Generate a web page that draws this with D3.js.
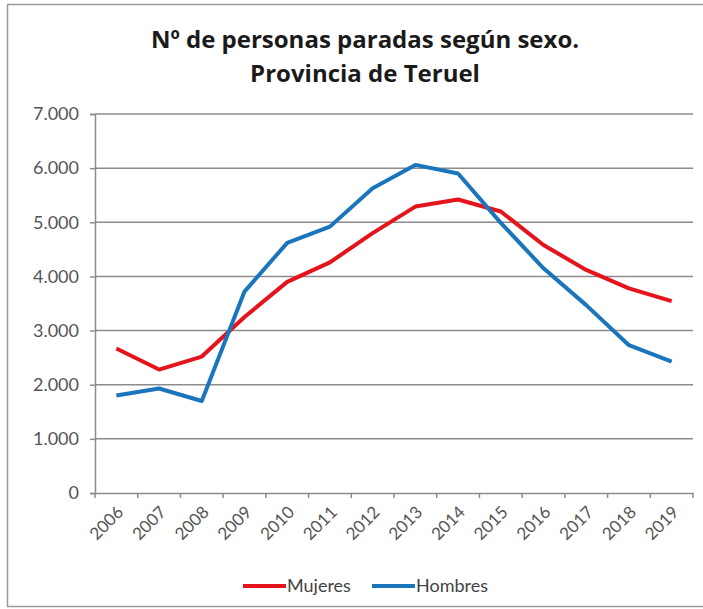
<!DOCTYPE html>
<html>
<head>
<meta charset="utf-8">
<script src="https://cdn.jsdelivr.net/npm/d3@7"></script>
<style>
  body { margin: 0; background: #fff; }
  svg { display: block; font-family: Lato, "Open Sans", sans-serif; }
</style>
</head>
<body>
<svg id="chart"></svg>
<script>
const years = ['2006', '2007', '2008', '2009', '2010', '2011', '2012', '2013', '2014', '2015', '2016', '2017', '2018', '2019']
const mujeres = [2670, 2280, 2520, 3250, 3900, 4260, 4800, 5290, 5420, 5200, 4580, 4120, 3780, 3545]
const hombres = [1800, 1930, 1700, 3720, 4620, 4920, 5630, 6060, 5900, 4990, 4150, 3470, 2730, 2425]
const yTicks = [0, 1000, 2000, 3000, 4000, 5000, 6000, 7000]
const seriesNames = ['Mujeres', 'Hombres']
const colors = ['#e5141c', '#1b75bc']

const width = 703
const height = 609
const margin = { top: 114, right: 10, bottom: 116, left: 95 }
const plotW = 598
const plotH = height - margin.top - margin.bottom

const svg = d3.select('#chart')
  .attr('width', width)
  .attr('height', height)

// frame
svg.append('rect')
  .attr('x', 7.5).attr('y', 4.5)
  .attr('width', 720).attr('height', 602)
  .attr('fill', '#fff')
  .attr('stroke', '#9a9a9a')
  .attr('stroke-width', 1.5)

// title
const title = svg.append('text')
  .attr('text-anchor', 'middle')
  .attr('font-family', '"Open Sans", sans-serif')
  .attr('font-weight', 'bold')
  .attr('font-size', '24px')
  .attr('fill', '#1a1a1a')
title.append('tspan').attr('x', 365).attr('y', 48).text('Nº de personas paradas según sexo.')
title.append('tspan').attr('x', 365).attr('y', 82).text('Provincia de Teruel')

const x = d3.scaleBand()
  .domain(years)
  .range([0, plotW])

const y = d3.scaleLinear()
  .domain([0, 7000])
  .range([plotH, 0])

const g = svg.append('g')
  .attr('transform', `translate(${margin.left}, ${margin.top})`)

const fmt = d => d3.format(',')(d).replace(/,/g, '.')

// gridlines + y axis
const yAxis = g.append('g')
  .call(d3.axisLeft(y).tickValues(yTicks).tickSize(5).tickPadding(11).tickFormat(fmt))
yAxis.select('.domain').attr('stroke', '#8c8c8c').attr('stroke-width', 1.5)
yAxis.selectAll('.tick line').attr('stroke', '#8c8c8c').attr('stroke-width', 1.5)
yAxis.selectAll('.tick text')
  .attr('font-size', '18px')
  .attr('fill', '#555')
  .attr('font-family', 'Lato, sans-serif')

g.append('g')
  .selectAll('line')
  .data(yTicks.filter(d => d > 0))
  .join('line')
  .attr('x1', 0).attr('x2', plotW)
  .attr('y1', d => y(d)).attr('y2', d => y(d))
  .attr('stroke', '#8c8c8c')
  .attr('stroke-width', 1.5)

// x axis
const xAxis = g.append('g')
  .attr('transform', `translate(0, ${plotH})`)
  .call(d3.axisBottom(x).tickSize(0).tickPadding(0))
xAxis.select('.domain').attr('stroke', '#8c8c8c').attr('stroke-width', 1.5)
xAxis.selectAll('.tick line').remove()
xAxis.selectAll('.tick text')
  .attr('font-size', '17px')
  .attr('fill', '#555')
  .attr('font-family', 'Lato, sans-serif')
  .attr('text-anchor', 'end')
  .attr('dy', '0.35em')
  .attr('transform', 'translate(4, 16) rotate(-45)')

// category boundary ticks
xAxis.append('g')
  .selectAll('line')
  .data(years.map(d => x(d)).concat([plotW]))
  .join('line')
  .attr('x1', d => d).attr('x2', d => d)
  .attr('y1', 0).attr('y2', 5)
  .attr('stroke', '#8c8c8c')
  .attr('stroke-width', 1.5)

// lines
const line = d3.line()
  .x((d, i) => x(years[i]) + x.bandwidth() / 2)
  .y(d => y(d))

;[mujeres, hombres].forEach((s, i) => {
  g.append('path')
    .datum(s)
    .attr('fill', 'none')
    .attr('stroke', colors[i])
    .attr('stroke-width', 4)
    .attr('stroke-linejoin', 'round')
    .attr('d', line)
})

// legend
const legend = svg.append('g')
  .attr('transform', 'translate(243, 586)')
  .selectAll('g')
  .data(seriesNames)
  .join('g')
  .attr('transform', (_, i) => `translate(${i * 129}, 0)`)

legend.append('line')
  .attr('x1', 0).attr('x2', 43)
  .attr('stroke', (_, i) => colors[i])
  .attr('stroke-width', 4)

legend.append('text')
  .attr('x', 44)
  .attr('dy', '0.35em')
  .attr('font-size', '18px')
  .attr('fill', '#444')
  .text(d => d)
</script>
</body>
</html>
